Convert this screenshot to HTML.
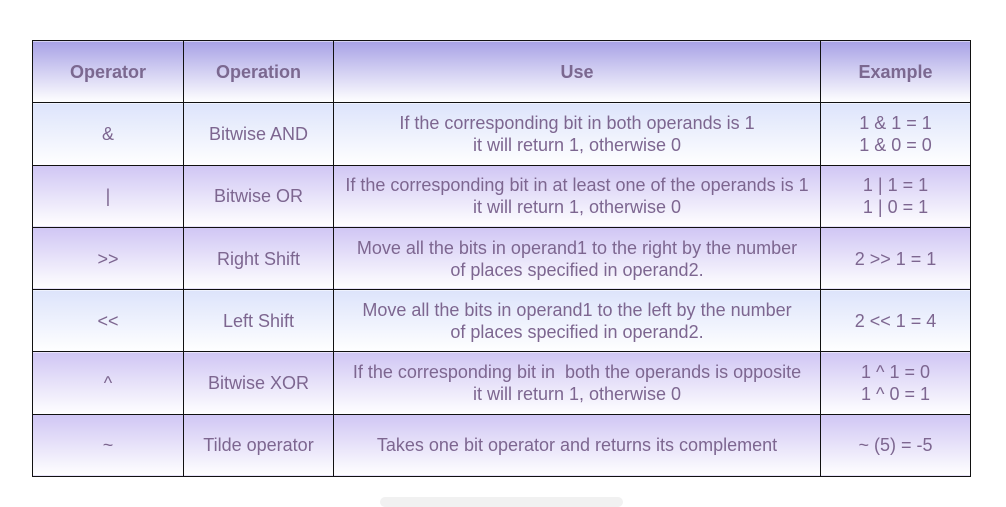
<!DOCTYPE html>
<html><head><style>
html,body{margin:0;padding:0;background:#fff;width:1006px;height:502px;overflow:hidden}
table{position:absolute;left:32px;top:40px;border-collapse:collapse;font-family:"Liberation Sans",sans-serif;font-size:18px;color:#7d6690}
td,th{border:1.5px solid #111;text-align:center;padding:0;line-height:22px}
th{font-weight:bold;color:#7b6890;height:61.3px;background:linear-gradient(#a8a2e6,#fff)}
tr.b td{background:linear-gradient(#dde4fb,#fff)}
tr.p td{background:linear-gradient(#d0c6f4,#fff)}
td{height:61.3px}
.bar{position:absolute;left:380px;top:497px;width:243px;height:10px;background:#f1f1f1;border-radius:5px}
</style></head><body>
<table>
<colgroup><col style="width:151px"><col style="width:150px"><col style="width:487px"><col style="width:150px"></colgroup>
<tr><th>Operator</th><th>Operation</th><th>Use</th><th>Example</th></tr>
<tr class="b"><td>&amp;</td><td>Bitwise AND</td><td>If the corresponding bit in both operands is 1<br>it will return 1, otherwise 0</td><td>1 &amp; 1 = 1<br>1 &amp; 0 = 0</td></tr>
<tr class="p"><td>|</td><td>Bitwise OR</td><td>If the corresponding bit in at least one of the operands is 1<br>it will return 1, otherwise 0</td><td>1 | 1 = 1<br>1 | 0 = 1</td></tr>
<tr class="p"><td>&gt;&gt;</td><td>Right Shift</td><td>Move all the bits in operand1 to the right by the number<br>of places specified in operand2.</td><td>2 &gt;&gt; 1 = 1</td></tr>
<tr class="b"><td>&lt;&lt;</td><td>Left Shift</td><td>Move all the bits in operand1 to the left by the number<br>of places specified in operand2.</td><td>2 &lt;&lt; 1 = 4</td></tr>
<tr class="p"><td>^</td><td>Bitwise XOR</td><td>If the corresponding bit in&nbsp; both the operands is opposite<br>it will return 1, otherwise 0</td><td>1 ^ 1 = 0<br>1 ^ 0 = 1</td></tr>
<tr class="p"><td>~</td><td>Tilde operator</td><td>Takes one bit operator and returns its complement</td><td>~ (5) = -5</td></tr>
</table>
<div class="bar"></div>
</body></html>
